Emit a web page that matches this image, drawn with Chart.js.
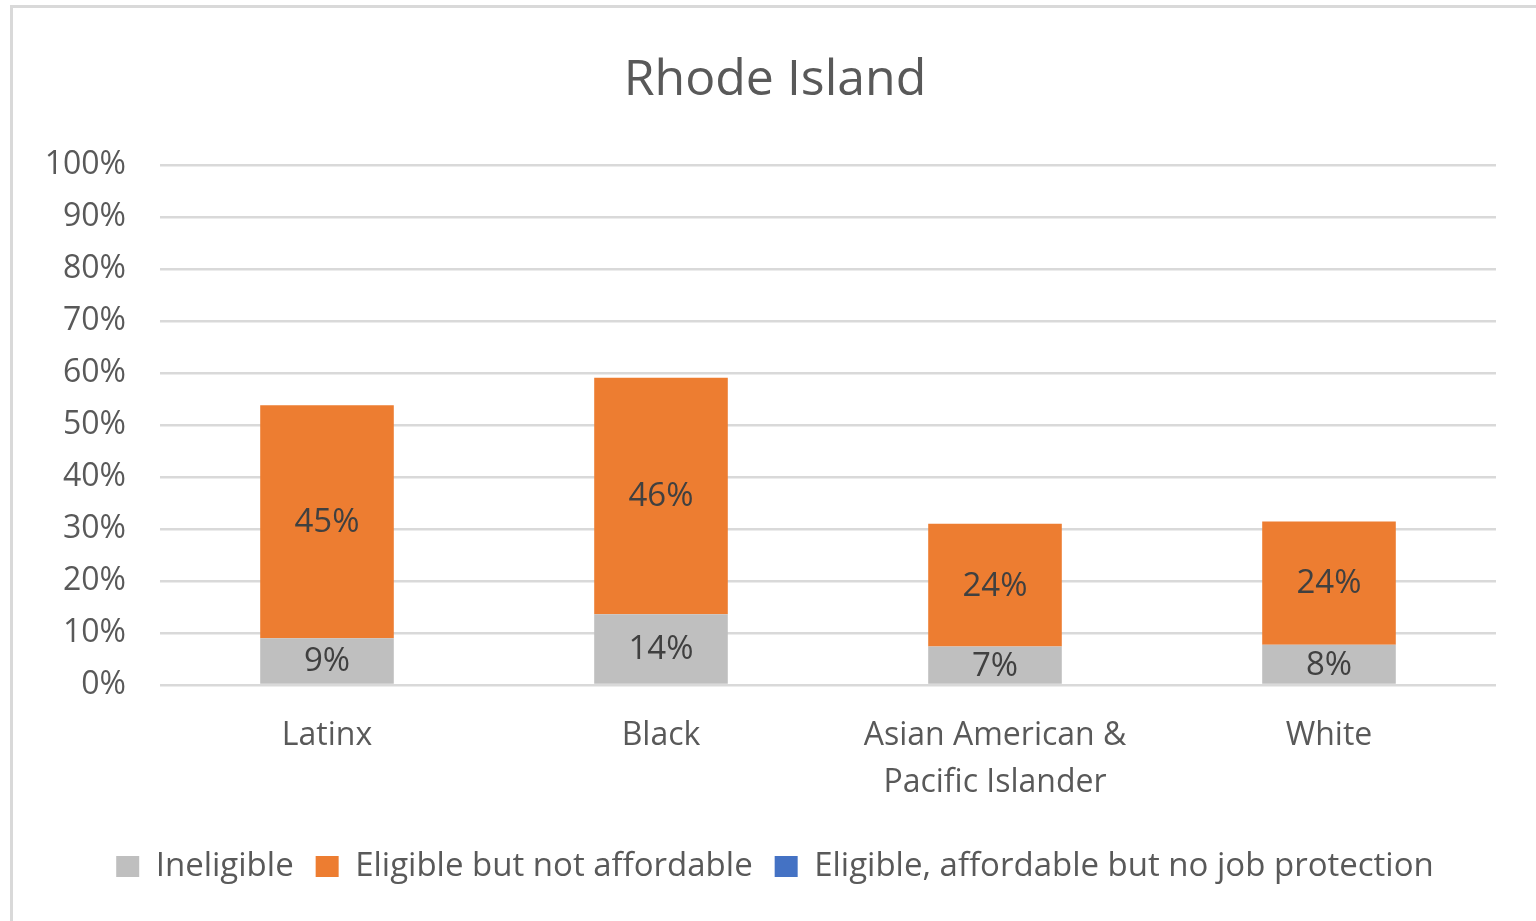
<!DOCTYPE html>
<html>
<head>
<meta charset="utf-8">
<title>Rhode Island</title>
<script src="https://cdn.jsdelivr.net/npm/chart.js@4/dist/chart.umd.min.js"></script>
<style>
    html, body { margin: 0; padding: 0; background: #ffffff; }
    #wrap { position: absolute; left: 0; top: 0; width: 1536px; height: 921px; }
</style>
</head>
<body>
<div id="wrap"><canvas id="rhode-island-chart"></canvas></div>
<script>
"use strict";

// Chart data
const categories = ['Latinx', 'Black', ['Asian American &', 'Pacific Islander'], 'White'];
const ineligible = [9.0, 13.6, 7.4, 7.75];
const notAffordable = [44.8, 45.5, 23.6, 23.7];
const noJobProtection = [null, null, null, null];
const yTicks = [0, 10, 20, 30, 40, 50, 60, 70, 80, 90, 100];

var InitChart = function () {
    // Define colors
    var grayColor = '#bfbfbf';
    var orangeColor = '#ed7d31';
    var blueColor = '#4472c4';
    var textColor = '#595959';
    var labelColor = '#404040';
    var lineColor = '#d9d9d9';
    var fontFamily = '"Open Sans", "Noto Sans", sans-serif';

    // white page + the thin frame around the chart
    const framePlugin = {
        id: 'frame',
        beforeDraw: (chart) => {
            const ctx = chart.ctx;
            ctx.save();
            ctx.fillStyle = '#ffffff';
            ctx.fillRect(0, 0, chart.width, chart.height);
            ctx.strokeStyle = lineColor;
            ctx.lineWidth = 3;
            ctx.beginPath();
            ctx.moveTo(11.5, chart.height);
            ctx.lineTo(11.5, 6.5);
            ctx.lineTo(chart.width, 6.5);
            ctx.stroke();
            ctx.restore();
        }
    };

    // value labels in the middle of each segment
    const valueLabels = {
        id: 'valueLabels',
        afterDatasetsDraw: (chart) => {
            const ctx = chart.ctx;
            ctx.save();
            ctx.font = '33px ' + fontFamily;
            ctx.fillStyle = labelColor;
            ctx.textAlign = 'center';
            ctx.textBaseline = 'middle';
            chart.data.datasets.forEach((ds, i) => {
                const meta = chart.getDatasetMeta(i);
                if (meta.hidden) {
                    return;
                }
                meta.data.forEach((bar, j) => {
                    const v = ds.data[j];
                    if (v === null || v === undefined) {
                        return;
                    }
                    const y = (bar.y + bar.base) / 2;
                    ctx.fillText(Math.round(v) + '%', bar.x, y + 1);
                });
            });
            ctx.restore();
        }
    };

    var drawChart = function () {
        const chartElement = document.querySelector('#rhode-island-chart');
        if (!chartElement) {
            return;
        }

        var config = {
            type: 'bar',
            data: {
                labels: categories,
                datasets: [
                    {
                        label: 'Ineligible',
                        data: ineligible,
                        backgroundColor: grayColor,
                        borderColor: grayColor
                    },
                    {
                        label: 'Eligible but not affordable',
                        data: notAffordable,
                        backgroundColor: orangeColor,
                        borderColor: orangeColor
                    },
                    {
                        label: 'Eligible, affordable but no job protection',
                        data: noJobProtection,
                        backgroundColor: blueColor,
                        borderColor: blueColor
                    }
                ]
            },
            options: {
                responsive: false,
                animation: false,
                layout: {
                    padding: { left: 14, right: 0, top: 0, bottom: 28 }
                },
                datasets: {
                    bar: {
                        categoryPercentage: 1.0,
                        barPercentage: 0.4,
                        borderWidth: 0
                    }
                },
                plugins: {
                    title: {
                        display: true,
                        text: 'Rhode Island',
                        color: textColor,
                        font: { family: fontFamily, size: 50, weight: 'normal', lineHeight: 1.2 },
                        padding: { top: 51, bottom: 54 }
                    },
                    legend: {
                        position: 'bottom',
                        labels: {
                            color: textColor,
                            font: { family: fontFamily, size: 33 },
                            boxWidth: 23,
                            boxHeight: 21,
                            padding: 22
                        }
                    },
                    tooltip: {
                        enabled: false
                    }
                },
                scales: {
                    x: {
                        stacked: true,
                        grid: { display: false },
                        border: { display: false },
                        ticks: {
                            color: textColor,
                            padding: 19,
                            maxRotation: 0,
                            autoSkip: false,
                            font: { family: fontFamily, size: 32, lineHeight: 1.47 }
                        },
                        afterFit: (scale) => { scale.height = 143; }
                    },
                    y: {
                        stacked: true,
                        min: 0,
                        max: 100,
                        border: { display: false },
                        grid: { color: lineColor, lineWidth: 2.5, drawTicks: false },
                        afterBuildTicks: (scale) => {
                            scale.ticks = yTicks.map(v => ({ value: v }));
                        },
                        ticks: {
                            color: textColor,
                            padding: 34,
                            font: { family: fontFamily, size: 32 },
                            callback: (v) => v + '%'
                        },
                        afterFit: (scale) => { scale.width = 146; }
                    },
                    y2: {
                        position: 'right',
                        display: true,
                        grid: { display: false },
                        border: { display: false },
                        ticks: { display: false },
                        afterFit: (scale) => { scale.width = 40; }
                    }
                }
            },
            plugins: [framePlugin, valueLabels]
        };

        chartElement.width = 1536;
        chartElement.height = 921;
        new Chart(chartElement.getContext('2d'), config);
    };

    return {
        init: function () {
            drawChart();
        }
    };
}();

document.addEventListener('DOMContentLoaded', function () {
    InitChart.init();
});
</script>
</body>
</html>
